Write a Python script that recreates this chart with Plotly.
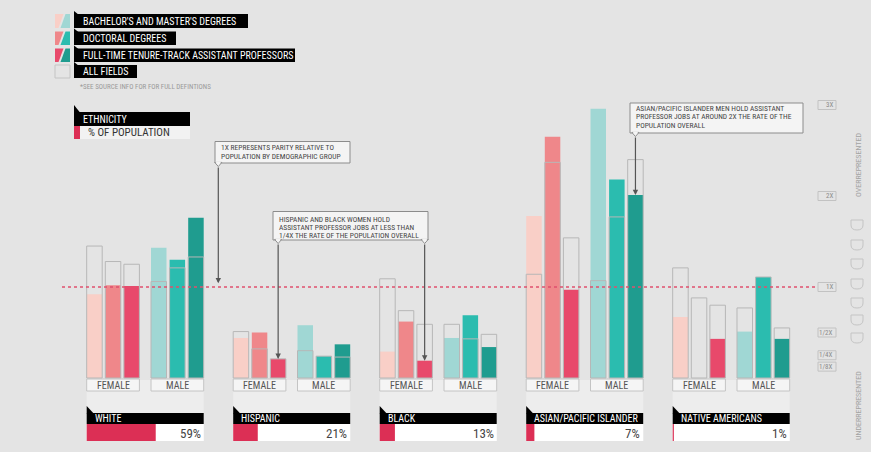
import plotly.graph_objects as go

# ---------------- data ----------------
groups = ["WHITE", "HISPANIC", "BLACK", "ASIAN/PACIFIC ISLANDER", "NATIVE AMERICANS"]
population_pct = [59, 21, 13, 7, 1]
genders = ["FEMALE", "MALE"]
field_labels = ["BACHELOR'S AND MASTER'S DEGREES", "DOCTORAL DEGREES",
                "FULL-TIME TENURE-TRACK ASSISTANT PROFESSORS", "ALL FIELDS"]

# representation relative to population share (1 = parity), filled bars
female_bach = [0.92, 0.44, 0.29, 1.78, 0.67]
female_doct = [1.02, 0.50, 0.62, 2.65, 0.00]
female_prof = [1.01, 0.21, 0.19, 0.97, 0.43]
male_bach = [1.43, 0.58, 0.44, 2.96, 0.51]
male_doct = [1.30, 0.24, 0.69, 2.18, 1.11]
male_prof = [1.76, 0.37, 0.34, 2.01, 0.43]
# all fields (outlined bars)
female_bach_all = [1.45, 0.51, 1.09, 1.14, 1.21]
female_doct_all = [1.28, 0.32, 0.74, 2.37, 0.88]
female_prof_all = [1.25, 0.21, 0.59, 1.54, 0.80]
male_bach_all = [1.06, 0.30, 0.59, 1.07, 0.77]
male_doct_all = [1.21, 0.24, 0.43, 1.77, 1.11]
male_prof_all = [1.33, 0.23, 0.48, 2.40, 0.55]

scale_values = [3, 2, 1, 0.5, 0.25, 0.125]
scale_labels = ["3X", "2X", "1X", "1/2X", "1/4X", "1/8X"]

# ---------------- layout constants ----------------
W, H = 871, 452
Y0 = 378.0      # pixel row of value 0
PXU = 91.0      # pixels per unit
GX0, GSTEP, GW = 86.7, 146.5, 117.0
BAR_W, BAR_STEP, MALE_OFF = 15.5, 18.6, 64.3
FONT = "Liberation Sans Narrow, Roboto Condensed, Arial Narrow, Liberation Sans, sans-serif"
BG = "#e4e4e4"
FEM = ["#f9cfc7", "#ef878a", "#e8496b"]
MAL = ["#a0d7d4", "#2bbcaf", "#1f9c8f"]
OUTLINE = "#b7b7b7"


def vy(ypx):
    return (Y0 - ypx) / PXU


def gleft(g):
    return GX0 + g * GSTEP


def bar_center(g, k, f):
    return gleft(g) + k * MALE_OFF + f * BAR_STEP + BAR_W / 2


fig = go.Figure()
fills = [[female_bach, female_doct, female_prof], [male_bach, male_doct, male_prof]]
alls = [[female_bach_all, female_doct_all, female_prof_all], [male_bach_all, male_doct_all, male_prof_all]]
colors = [FEM, MAL]
for k in range(2):
    for f in range(3):
        fig.add_bar(x=[bar_center(g, k, f) for g in range(5)], y=fills[k][f], width=BAR_W,
                    marker=dict(color=colors[k][f], line=dict(width=0)),
                    hoverinfo="skip", showlegend=False)
for k in range(2):
    for f in range(3):
        fig.add_bar(x=[bar_center(g, k, f) for g in range(5)], y=alls[k][f], width=BAR_W,
                    marker=dict(color="rgba(0,0,0,0)", line=dict(color=OUTLINE, width=1)),
                    hoverinfo="skip", showlegend=False)

shapes = []
ann = []


def rect(x0, x1, y0, y1, fill, line=None, lw=1, layer="below"):
    shapes.append(dict(type="rect", xref="x", yref="y", x0=x0, x1=x1, y0=vy(y0), y1=vy(y1),
                       fillcolor=fill, line=dict(color=line or "rgba(0,0,0,0)", width=lw if line else 0),
                       layer=layer))


def poly(pts, fill, line=None, layer="above"):
    p = "M " + " L ".join(f"{x},{vy(y)}" for x, y in pts) + " Z"
    shapes.append(dict(type="path", xref="x", yref="y", path=p, fillcolor=fill, layer=layer,
                       line=dict(color=line or "rgba(0,0,0,0)", width=1 if line else 0)))


def text(x, y, s, size, color, anchor="left", bold=False, angle=0):
    ann.append(dict(x=x, y=vy(y), xref="x", yref="y", text=f"<b>{s}</b>" if bold else s,
                    showarrow=False, xanchor=anchor, yanchor="middle", textangle=angle,
                    font=dict(family=FONT, size=size, color=color)))


# parity line
shapes.append(dict(type="line", xref="x", yref="y", x0=62, x1=816, y0=1, y1=1,
                   line=dict(color="#e0506e", width=1.5, dash="dot")))

# bottom panels
for g in range(5):
    L = gleft(g)
    rect(L, L + GW, 380, 441, "#ededed")
    for k in range(2):
        x0 = L + k * MALE_OFF
        rect(x0, x0 + 2 * BAR_STEP + BAR_W, 379, 391, "#f5f5f5", "#c4c4c4")
        text(x0 + (2 * BAR_STEP + BAR_W) / 2, 385.5, genders[k], 10, "#555", "center")
    rect(L, L + GW, 413, 424, "black", layer="above")
    poly([(L, 406), (L, 413.5), (L + 7, 413.5)], "black")
    text(L + 6, 418.8, groups[g], 10, "white")
    rect(L, L + GW, 424, 441, "white")
    rect(L, L + GW * population_pct[g] / 100, 424, 441, "#dc2f55")
    text(L + GW - 1, 433, f"{population_pct[g]}%", 13, "#444", "right")

# legend
leg_y = [(14, 28), (31.5, 45), (48.5, 62), (65, 78)]
leg_w = [248, 176, 295, 137]
for i, (y0, y1) in enumerate(leg_y):
    rect(74, leg_w[i], y0, y1, "black", layer="above")
    poly([(74, y0 - 3), (74, y0 + 1), (79, y0 + 1)], "black")
    text(81, (y0 + y1) / 2, field_labels[i], 10, "white")
    if i < 3:
        poly([(55, y0), (63.5, y0), (58.5, y1), (55, y1)], FEM[i])
        poly([(65.5, y0), (70, y0), (70, y1), (60.5, y1)], MAL[i])
    else:
        rect(55, 70, y0, y1, "rgba(0,0,0,0)", "#c4c4c4")
text(78, 87, "*SEE SOURCE INFO FOR FOR FULL DEFINTIONS", 7, "#9a9a9a")

rect(74, 190, 112, 126, "black", layer="above")
poly([(74, 105), (74, 112.5), (80, 112.5)], "black")
text(81, 119, "ETHNICITY", 10, "white")
rect(80, 190, 126, 139, "#f2f2f2")
rect(74, 80, 126, 139, "#dc2f55")
text(86, 132.5, "% OF POPULATION", 11, "#333")

# callouts: (x0, x1, y0, y1, first line y, line step, lines, pointer x)
callouts = [
    (215, 350, 141.5, 163, 147, 9.3, ["1X REPRESENTS PARITY RELATIVE TO", "POPULATION BY DEMOGRAPHIC GROUP"],
     [218.3]),
    (273, 428, 211.5, 240, 219.5, 8.2, ["HISPANIC AND BLACK WOMEN HOLD", "ASSISTANT PROFESSOR JOBS AT LESS THAN",
                                        "1/4X THE RATE OF THE POPULATION OVERALL"],
     [bar_center(1, 0, 2), bar_center(2, 0, 2)]),
    (630, 803, 103, 133, 108.5, 8.3, ["ASIAN/PACIFIC ISLANDER MEN HOLD ASSISTANT",
                                      "PROFESSOR JOBS AT AROUND 2X THE RATE OF THE", "POPULATION OVERALL"],
     [bar_center(3, 1, 2)]),
]
for x0, x1, y0, y1, ly, step, lines, pxs in callouts:
    rect(x0, x1, y0, y1, "#f4f4f4", "#8c8c8c", layer="above")
    for px in pxs:
        poly([(px - 3.5, y1 - 0.6), (px + 3.5, y1 - 0.6), (px, y1 + 3.5)], "#f4f4f4", "#8c8c8c")
        poly([(px - 3, y1 - 1.2), (px + 3, y1 - 1.2), (px, y1 + 2.5)], "#f4f4f4")
    for j, s in enumerate(lines):
        ann.append(dict(x=x0 + 4, y=vy(ly + j * step), xref="x", yref="y", text=s,
                        showarrow=False, xanchor="left", yanchor="middle", align="left",
                        font=dict(family=FONT, size=7.5, color="#444")))

arrows = [
    (218.3, 1.04, 166),
    (bar_center(1, 0, 2), female_prof[1], 243),
    (bar_center(2, 0, 2), female_prof[2], 243),
    (bar_center(3, 1, 2), male_prof[3], 136),
]
for x, y, ytail in arrows:
    ann.append(dict(x=x, y=y, xref="x", yref="y", ax=x, ay=vy(ytail), axref="x", ayref="y",
                    text="", showarrow=True, arrowhead=2, arrowsize=0.9, arrowwidth=1.2,
                    arrowcolor="#555"))

# right scale
for v, lab in zip(scale_values, scale_labels):
    yc = Y0 - v * PXU
    rect(818, 836, yc - 4.5, yc + 4.5, "rgba(0,0,0,0)", "#c2c2c2")
    text(835, yc, lab, 7, "#8a8a8a", "right")

text(858, 165, "OVERREPRESENTED", 8, "#a2a2a2", "center", angle=-90)
text(858, 406, "UNDERREPRESENTED", 8, "#a2a2a2", "center", angle=-90)
for t in [220, 240, 259, 279, 298, 315, 333]:
    p = (f"M 851,{vy(t)} L 863,{vy(t)} L 863,{vy(t + 5)} Q 863,{vy(t + 10)} 857,{vy(t + 10)} "
         f"Q 851,{vy(t + 10)} 851,{vy(t + 5)} Z")
    shapes.append(dict(type="path", xref="x", yref="y", path=p, fillcolor="rgba(0,0,0,0)",
                       line=dict(color="#c4c4c4", width=1)))

fig.update_layout(
    width=W, height=H, margin=dict(l=0, r=0, t=0, b=0),
    paper_bgcolor=BG, plot_bgcolor=BG, barmode="overlay",
    xaxis=dict(range=[0, W], visible=False, fixedrange=True),
    yaxis=dict(range=[vy(H), vy(0)], visible=False, fixedrange=True),
    shapes=shapes, annotations=ann, showlegend=False, hovermode=False,
)
fig.write_html("out.html", config={"displayModeBar": False, "staticPlot": True},
               post_script="document.body.style.margin='0px';document.body.style.background='#e4e4e4';")
